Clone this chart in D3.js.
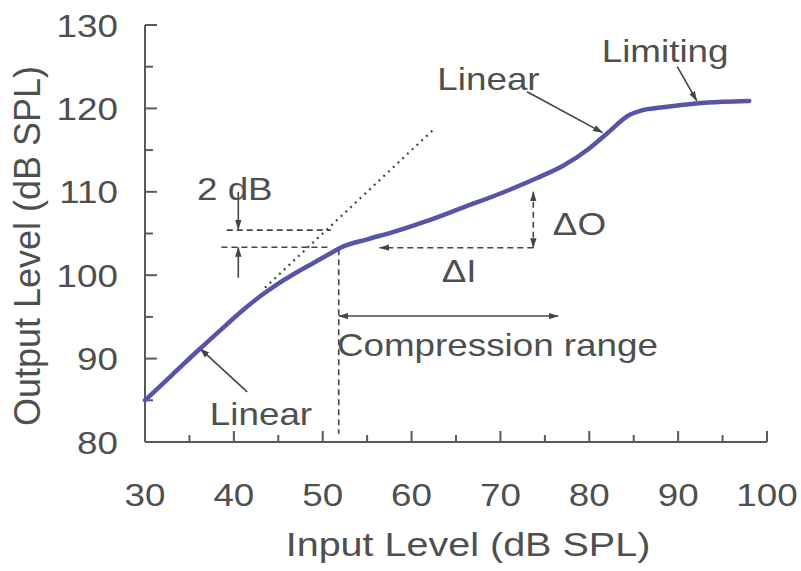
<!DOCTYPE html>
<html>
<head>
<meta charset="utf-8">
<script src="https://cdn.jsdelivr.net/npm/d3@7"></script>
<style>
  html, body { margin: 0; padding: 0; background: #ffffff; }
  svg { display: block; }
  text { font-family: "Liberation Sans", Arial, Helvetica, sans-serif; fill: #4f4f4f; }
</style>
</head>
<body>
<svg id="chart" width="801" height="571"></svg>
<script>
// Input/output curve of a compression hearing aid (dB SPL)
const inputLevel  = [30, 33, 36, 39, 41, 43, 45, 47, 49, 51, 52, 55, 58, 62, 66, 70, 74, 77, 80, 82, 84.5, 86, 88, 92, 95, 98];
const outputLevel = [85.0, 88.0, 91.0, 93.9, 95.8, 97.5, 99.0, 100.3, 101.5, 102.7, 103.3, 104.3, 105.2, 106.6, 108.2, 109.8, 111.6, 113.1, 115.2, 117.0, 119.2, 119.8, 120.1, 120.6, 120.8, 120.9];

// Extension of the linear (1:1 slope) segment
const linearExtIn  = [43.5, 62.5];
const linearExtOut = [98.5, 117.5];

const xTicks = [30, 40, 50, 60, 70, 80, 90, 100];
const yTicks = [80, 90, 100, 110, 120, 130];
const xMinorTicks = [35, 45, 55, 65, 75, 85, 95];
const yMinorTicks = [85, 95, 105, 115, 125];

const kneeInput = 51.8;           // compression threshold
const kneeOutput = 103.3;

const svg = d3.select("#chart");
const TEXT_SX = 1.15;             // horizontal stretch of the lettering
const FONT = 32;
const INK = "#444";

const x = d3.scaleLinear().domain([30, 100]).range([145, 767]);
const y = d3.scaleLinear().domain([80, 130]).range([442, 25]);

// arrowhead marker
const defs = svg.append("defs");
defs.append("marker")
  .attr("id", "arrow")
  .attr("viewBox", "0 0 10 8")
  .attr("refX", 9.5).attr("refY", 4)
  .attr("markerWidth", 10).attr("markerHeight", 8)
  .attr("markerUnits", "userSpaceOnUse")
  .attr("orient", "auto-start-reverse")
  .append("path")
  .attr("d", "M0,0.8 L10,4 L0,7.2 Z")
  .attr("fill", INK);

function label(txt, px, py, size, anchor, sx) {
  return svg.append("text")
    .attr("transform", `translate(${px},${py}) scale(${sx},1)`)
    .attr("text-anchor", anchor || "start")
    .style("font-size", size + "px")
    .text(txt);
}

// axes
const axisG = svg.append("g").attr("stroke", "#5a5a5a").attr("stroke-width", 2).attr("fill", "none");
axisG.append("line").attr("x1", x(30)).attr("x2", x(30)).attr("y1", y(130)).attr("y2", y(80));
axisG.append("line").attr("x1", x(30)).attr("x2", x(100)).attr("y1", y(80)).attr("y2", y(80));

// y ticks point into the plot
axisG.selectAll(".ytick").data(yTicks.filter(d => d > 80)).join("line")
  .attr("x1", x(30)).attr("x2", x(30) + 12).attr("y1", d => y(d)).attr("y2", d => y(d));
axisG.selectAll(".yminor").data(yMinorTicks).join("line")
  .attr("x1", x(30)).attr("x2", x(30) + 8).attr("y1", d => y(d)).attr("y2", d => y(d));
// x ticks point up
axisG.selectAll(".xtick").data(xTicks.filter(d => d > 30)).join("line")
  .attr("x1", d => x(d)).attr("x2", d => x(d)).attr("y1", y(80)).attr("y2", y(80) - 11);
axisG.selectAll(".xminor").data(xMinorTicks).join("line")
  .attr("x1", d => x(d)).attr("x2", d => x(d)).attr("y1", y(80)).attr("y2", y(80) - 7);

// tick labels
yTicks.forEach(v => label(String(v), 118, y(v) + 11.5, FONT, "end", TEXT_SX));
xTicks.forEach(v => label(String(v), x(v), 506, FONT, "middle", TEXT_SX));

// axis titles
label("Input Level (dB SPL)", 468, 556, 33.5, "middle", 1.18);
svg.append("text")
  .attr("transform", `translate(40,246) rotate(-90)`)
  .attr("text-anchor", "middle")
  .style("font-size", "36px")
  .text("Output Level (dB SPL)");

// helper for annotation lines in data units
function seg(x1, y1, x2, y2, opts) {
  const o = opts || {};
  const l = svg.append("line")
    .attr("x1", x(x1)).attr("y1", y(y1)).attr("x2", x(x2)).attr("y2", y(y2))
    .attr("stroke", INK).attr("stroke-width", o.w || 1.6);
  if (o.dash) l.attr("stroke-dasharray", o.dash);
  if (o.end) l.attr("marker-end", "url(#arrow)");
  if (o.start) l.attr("marker-start", "url(#arrow)");
  return l;
}

// dotted extension of the linear segment
svg.append("line")
  .attr("x1", x(linearExtIn[0])).attr("y1", y(linearExtOut[0]))
  .attr("x2", x(linearExtIn[1])).attr("y2", y(linearExtOut[1]))
  .attr("stroke", INK).attr("stroke-width", 2.2).attr("stroke-dasharray", "2,4.5");

// 2 dB gap markers
seg(39.2, 105.4, 50.9, 105.4, { dash: "6,4" });
seg(38.6, 103.35, 50.6, 103.35, { dash: "6,4" });
seg(40.5, 110.0, 40.5, 105.5, { end: true });
seg(40.5, 99.7, 40.5, 103.35, { end: true });

// compression threshold
seg(kneeInput, kneeOutput - 0.2, kneeInput, 81.0, { dash: "6,4" });

// ΔI / ΔO
seg(73.7, 103.3, 56.4, 103.3, { dash: "6,4", end: true });
seg(73.7, 103.3, 73.7, 110.0, { dash: "6,4", end: true, start: true });

// compression range
seg(kneeInput, 95.1, 76.5, 95.1, { start: true, end: true });

// pointers to the regions of the curve
seg(41.5, 86.0, 36.2, 91.2, { end: true });
seg(73.0, 122.0, 81.5, 117.1, { end: true });
seg(89.9, 125.0, 92.1, 120.9, { end: true });

// the I/O curve
const line = d3.line()
  .x((d, i) => x(inputLevel[i]))
  .y(d => y(d))
  .curve(d3.curveMonotoneX);
svg.append("path")
  .attr("d", line(outputLevel))
  .attr("fill", "none")
  .attr("stroke", "#5855a6")
  .attr("stroke-width", 4.5)
  .attr("stroke-linejoin", "round")
  .attr("stroke-linecap", "round");

// annotation text
label("Linear", x(37.3), y(82.0), FONT, "start", TEXT_SX);
label("Linear", x(62.9), y(122.2), FONT, "start", TEXT_SX);
label("Limiting", x(81.4), y(125.6), FONT, "start", TEXT_SX);
label("2 dB", x(35.85), y(109.0), FONT, "start", TEXT_SX);
label("\u0394O", x(75.9), y(104.8), FONT, "start", TEXT_SX);
label("\u0394I", x(63.4), y(99.2), FONT, "start", TEXT_SX);
label("Compression range", x(51.6), y(90.3), FONT, "start", TEXT_SX);
</script>
</body>
</html>
